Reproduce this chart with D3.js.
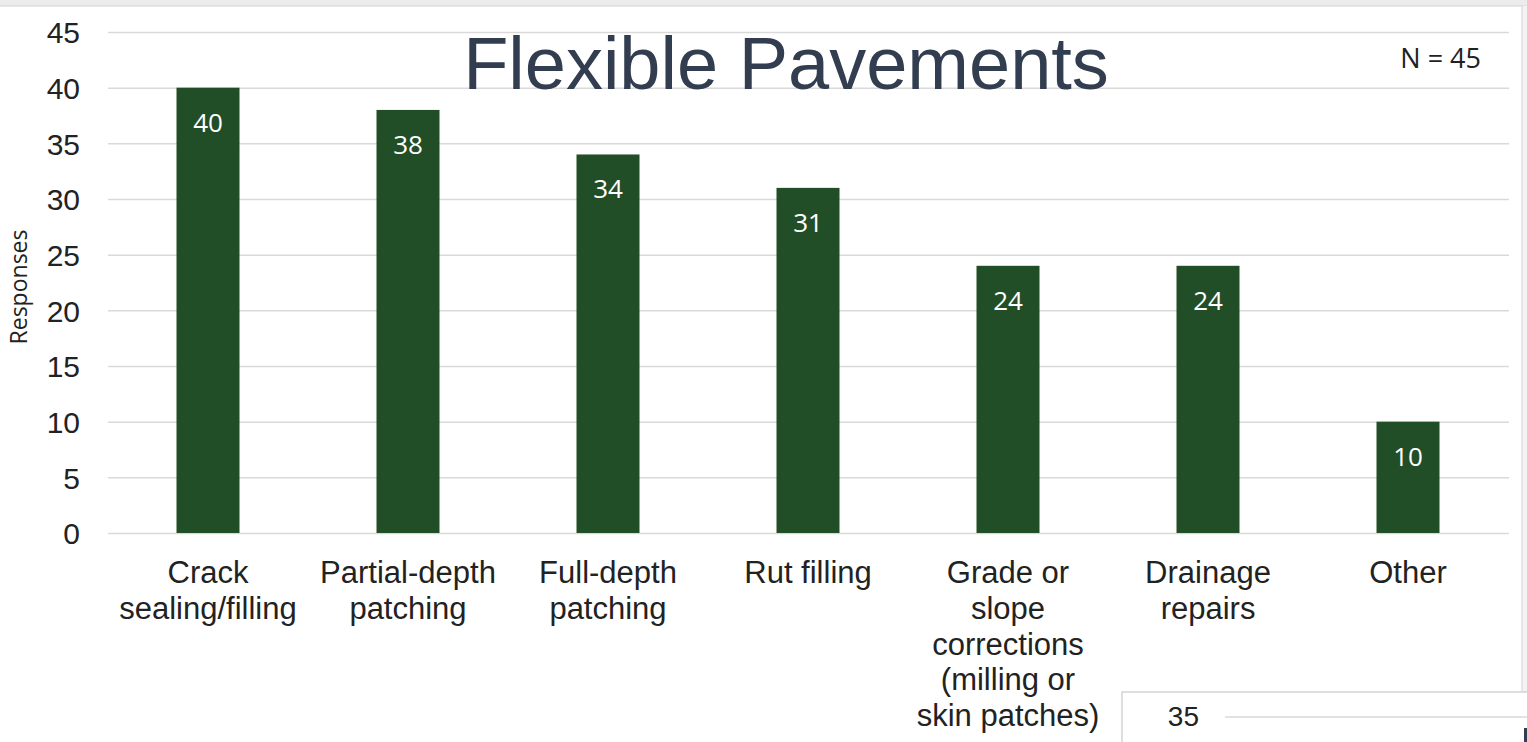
<!DOCTYPE html>
<html>
<head>
<meta charset="utf-8">
<script src="https://cdn.jsdelivr.net/npm/d3@7/dist/d3.min.js"></script>
<style>
  html, body { margin: 0; padding: 0; background: #ffffff; }
  svg { display: block; }
</style>
</head>
<body>
<svg id="chart" width="1527" height="742"></svg>
<script>
// Survey responses: maintenance activities used on flexible pavements
const categories = [
  "Crack\nsealing/filling",
  "Partial-depth\npatching",
  "Full-depth\npatching",
  "Rut filling",
  "Grade or\nslope\ncorrections\n(milling or\nskin patches)",
  "Drainage\nrepairs",
  "Other"
];
const responses = [40, 38, 34, 31, 24, 24, 10];
const yTicks = [0, 5, 10, 15, 20, 25, 30, 35, 40, 45];
const titleText = "Flexible Pavements";
const sampleNote = "N = 45";
const yAxisTitle = "Responses";
const insetTick = "35";

const svg = d3.select("#chart");
const W = 1527, H = 742;

// Slide chrome: top strip and panel border
svg.append("rect").attr("x", 0).attr("y", 0).attr("width", W).attr("height", 6).attr("fill", "#ececec");
svg.append("line").attr("x1", 0).attr("x2", W).attr("y1", 6).attr("y2", 6).attr("stroke", "#dedede").attr("stroke-width", 1.5);
svg.append("rect").attr("x", 1523).attr("y", 6).attr("width", 4).attr("height", 690).attr("fill", "#f3f3f3");
svg.append("line").attr("x1", 1522).attr("x2", 1522).attr("y1", 6).attr("y2", 692).attr("stroke", "#dcdcdc").attr("stroke-width", 1.5);

const x = d3.scaleBand()
  .domain(categories)
  .range([108, 1508])
  .paddingInner(0.685)
  .paddingOuter(0.3425);

const y = d3.scaleLinear().domain([0, 45]).range([533, 32]);

// Horizontal gridlines and tick labels
const yAxis = d3.axisLeft(y).tickValues(yTicks).tickSize(-1401).tickPadding(28);
const gy = svg.append("g").attr("transform", "translate(108,0)").call(yAxis);
gy.select(".domain").remove();
gy.selectAll(".tick line").attr("stroke", "#d9d9d9").attr("stroke-width", 1.5);
gy.selectAll(".tick text")
  .attr("font-family", "'Liberation Sans', Arial, sans-serif")
  .attr("font-size", 30)
  .attr("fill", "#222222")
  .attr("dy", "0.36em");

// Bars
svg.append("g").selectAll("rect")
  .data(responses)
  .join("rect")
  .attr("x", (d, i) => x(categories[i]))
  .attr("y", d => y(d))
  .attr("width", x.bandwidth())
  .attr("height", d => y(0) - y(d))
  .attr("fill", "#224e27");

// Value labels inside bars
svg.append("g").selectAll("text")
  .data(responses)
  .join("text")
  .attr("x", (d, i) => x(categories[i]) + x.bandwidth() / 2)
  .attr("y", d => y(d) + 44)
  .attr("text-anchor", "middle")
  .attr("font-family", "'Open Sans', sans-serif")
  .attr("font-size", 26)
  .attr("fill", "#ffffff")
  .text(d => d);

// Category labels (multi-line)
const xAxis = d3.axisBottom(x).tickSize(0).tickFormat("");
const gx = svg.append("g").attr("transform", "translate(0,533)").call(xAxis);
gx.select(".domain").remove();
gx.selectAll(".tick").each(function(d) {
  const lines = d.split("\n");
  const t = d3.select(this).append("text")
    .attr("text-anchor", "middle")
    .attr("font-family", "'Liberation Sans', Arial, sans-serif")
    .attr("font-size", 31)
    .attr("fill", "#222222");
  lines.forEach((ln, i) => {
    t.append("tspan").attr("x", 0).attr("y", 50 + i * 35.8).text(ln);
  });
});

// Axis title
svg.append("text")
  .attr("transform", "translate(27,287) rotate(-90)")
  .attr("text-anchor", "middle")
  .attr("font-family", "'Open Sans', sans-serif")
  .attr("font-size", 23)
  .attr("fill", "#222222")
  .text(yAxisTitle);

// Chart title
svg.append("text")
  .attr("x", 786)
  .attr("y", 89)
  .attr("text-anchor", "middle")
  .attr("font-family", "'Liberation Sans', Arial, sans-serif")
  .attr("font-size", 74)
  .attr("fill", "#323e50")
  .text(titleText);

// Sample size note
svg.append("text")
  .attr("x", 1481)
  .attr("y", 68)
  .attr("text-anchor", "end")
  .attr("font-family", "'Open Sans', sans-serif")
  .attr("font-size", 27)
  .attr("fill", "#222222")
  .text(sampleNote);

// Overlapping inset panel at lower right
svg.append("rect")
  .attr("x", 1122).attr("y", 692).attr("width", 420).attr("height", 60)
  .attr("fill", "#ffffff").attr("stroke", "#d4d4d4").attr("stroke-width", 1.5);
svg.append("text")
  .attr("x", 1199).attr("y", 726)
  .attr("text-anchor", "end")
  .attr("font-family", "'Liberation Sans', Arial, sans-serif")
  .attr("font-size", 28)
  .attr("fill", "#222222")
  .text(insetTick);
svg.append("line")
  .attr("x1", 1225).attr("x2", W).attr("y1", 717).attr("y2", 717)
  .attr("stroke", "#d9d9d9").attr("stroke-width", 1.5);
svg.append("rect")
  .attr("x", 1524).attr("y", 728).attr("width", 3).attr("height", 14)
  .attr("fill", "#323e50");
</script>
</body>
</html>
